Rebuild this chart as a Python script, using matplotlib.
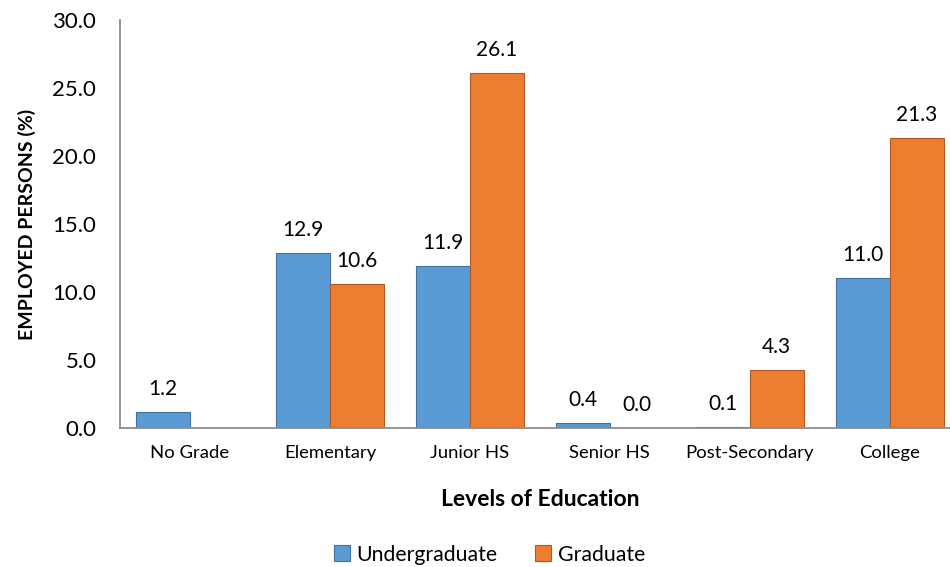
import numpy as np
import matplotlib.pyplot as plt

plt.rcParams['font.family'] = ['Lato', 'DejaVu Sans']

# Data
categories = ["No Grade", "Elementary", "Junior HS", "Senior HS", "Post-Secondary", "College"]
undergrad = [1.2, 12.9, 11.9, 0.4, 0.1, 11.0]
graduate = [None, 10.6, 26.1, 0.0, 4.3, 21.3]

blue = '#5B9BD5'
orange = '#ED7D31'

fig = plt.figure(figsize=(9.5, 5.67), dpi=100)
ax = fig.add_axes([0.1263, 0.245, 0.884, 0.72])

x = np.arange(len(categories))
w = 0.385

grad_vals = [g if g is not None else 0 for g in graduate]
b1 = ax.bar(x - w / 2, undergrad, w, color=blue, edgecolor='#41719C', linewidth=0.8, label='Undergraduate')
b2 = ax.bar(x + w / 2, grad_vals, w, color=orange, edgecolor='#AE5A21', linewidth=0.8, label='Graduate')

# Data labels
for xi, v in zip(x - w / 2, undergrad):
    ax.annotate(f"{v:.1f}", (xi, v), xytext=(0, 16.5), textcoords='offset points',
                ha='center', va='center', fontsize=15, color='#000000')
for xi, v in zip(x + w / 2, graduate):
    if v is None:
        continue
    ax.annotate(f"{v:.1f}", (xi, v), xytext=(0, 16.5), textcoords='offset points',
                ha='center', va='center', fontsize=15, color='#000000')

ax.set_xlim(-0.5, len(categories) - 0.5)
ax.set_ylim(0, 30)
ax.set_yticks(np.arange(0, 31, 5))
ax.set_yticklabels([f"{t:.1f}" for t in np.arange(0, 31, 5)], fontsize=16)
ax.set_xticks(x)
ax.set_xticklabels(categories, fontsize=13.3)
ax.tick_params(axis='both', length=0)
ax.tick_params(axis='y', pad=17)
ax.tick_params(axis='x', pad=12)

for s in ['top', 'right']:
    ax.spines[s].set_visible(False)
for s in ['left', 'bottom']:
    ax.spines[s].set_color('#8C8C8C')
    ax.spines[s].set_linewidth(1.3)

ax.set_ylabel("EMPLOYED PERSONS (%)", fontsize=14, fontweight='bold', labelpad=12)
ax.set_xlabel("Levels of Education", fontsize=16.5, fontweight='bold', labelpad=20)

fig.legend(handles=[b1, b2], loc='center', bbox_to_anchor=(0.515, 0.022), ncol=2,
           frameon=False, fontsize=15.3, handlelength=0.75, handleheight=0.75,
           handletextpad=0.3, columnspacing=1.8)

fig.savefig('out.png', dpi=100)
